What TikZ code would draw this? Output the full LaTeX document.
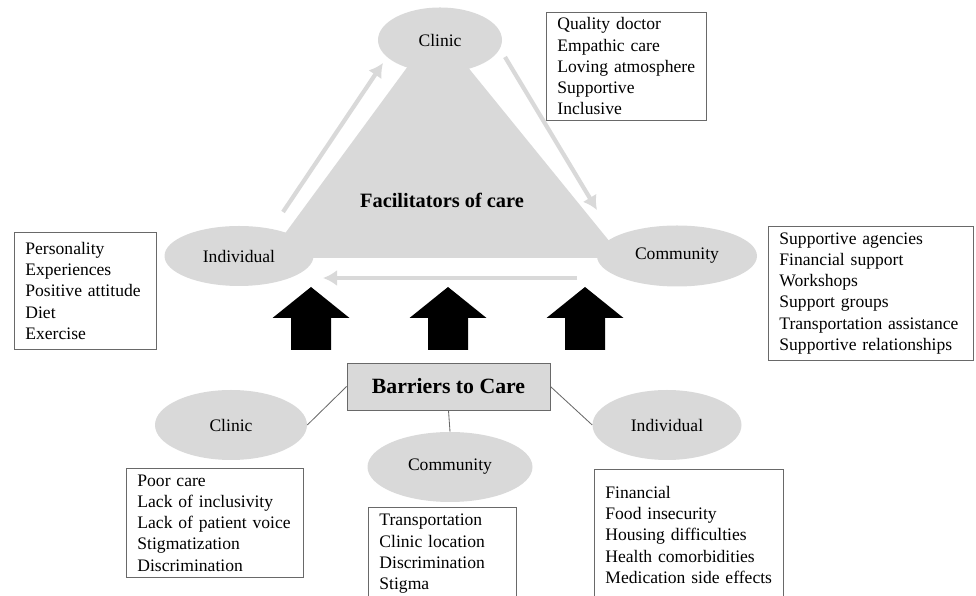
\documentclass[tikz,border=0pt]{standalone}
\usepackage{fontspec}
\setmainfont{Liberation Serif}
\usetikzlibrary{arrows.meta,shapes.geometric}
\definecolor{lgrey}{RGB}{217,217,217}
\definecolor{dgrey}{RGB}{105,105,105}
\begin{document}
\begin{tikzpicture}
	\def\fs{\fontsize{12.5}{15.1}\selectfont}
	\tikzset{e/.style 2 args={ellipse,fill=lgrey,minimum width=#1cm,minimum height=#2cm,inner sep=0pt,font=\fs},
		l/.style 2 args={draw=dgrey,line width=0.6pt,fill=white,anchor=north west,align=left,inner xsep=0.275cm,inner ysep=0pt,text width=#1cm,minimum height=#2cm,font=\fs},
		g/.style={draw=lgrey,line width=3pt,-{Latex[length=0.35cm,width=0.4cm]}}}
	\useasboundingbox(0,0)rectangle(24.4,14.9);
	\fill[lgrey](10.9,14.2)--(6.675,8.45)--(15.575,8.45)--cycle;
	\path(11,13.9)node[e={3.1}{1.625}](fcli){Clinic}
		(5.975,8.5)node[e={3.725}{1.5}](find){Individual}
		(16.925,8.5)node[e={4.0}{1.525}](fcom){Community};
	\node[font=\fontsize{14.5}{17}\selectfont\bfseries](fac)at(11.05,9.9){Facilitators of care};
	\coordinate(p1)at(7.075,9.6);
	\coordinate(p2)at(9.575,13.325);
	\coordinate(p3)at(12.625,13.475);
	\coordinate(p4)at(14.925,9.65);
	\coordinate(p5)at(14.425,7.95);
	\coordinate(p6)at(8.075,7.95);
	\foreach \x/\y in {p1/p2,p3/p4,p5/p6}
	\draw[g](\x)--(\y);
	\foreach \x in {7.775,11.2,14.625}
	\fill(\x-0.5,6.15)--(\x-0.5,6.95)--(\x-0.9625,6.95)--(\x,7.725)--(\x+0.9625,6.95)--(\x+0.5,6.95)--(\x+0.5,6.15)--cycle;
	\node[l={3.45}{2.7}](fcl)at(13.65,14.6){Quality doctor\\Empathic care\\Loving atmosphere\\Supportive\\Inclusive};
	\node[l={3.0}{2.925}](fil)at(0.35,9.1){Personality\\Experiences\\Positive attitude\\Diet\\Exercise};
	\node[l={4.575}{3.35}](fml)at(19.2,9.25){Supportive agencies\\Financial support\\Workshops\\Support groups\\Transportation assistance\\Supportive relationships};
	\node[draw=dgrey,line width=0.6pt,fill=lgrey,minimum width=5.075cm,minimum height=1.175cm,font=\fontsize{15.5}{18}\selectfont\bfseries](bar)at(11.2125,5.2375){Barriers to Care};
	\path(5.775,4.275)node[e={3.8}{1.75}](bcli){Clinic}
		(11.25,3.225)node[e={4.125}{1.75}](bcom){Community}
		(16.675,4.275)node[e={3.725}{1.75}](bind){Individual};
	\foreach \x/\y in {bar.west/bcli.east,bar.south/bcom.north,bar.east/bind.west}
	\draw[dgrey,line width=0.6pt](\x)--(\y);
	\node[l={3.875}{2.725}](bcl)at(3.15,3.2){Poor care\\Lack of inclusivity\\Lack of patient voice\\Stigmatization\\Discrimination};
	\node[l={3.15}{2.325}](bml)at(9.2,2.225){Transportation\\Clinic location\\Discrimination\\Stigma};
	\node[l={4.175}{3.275}](bil)at(14.85,3.175){Financial\\Food insecurity\\Housing difficulties\\Health comorbidities\\Medication side effects};
\end{tikzpicture}
\end{document}
